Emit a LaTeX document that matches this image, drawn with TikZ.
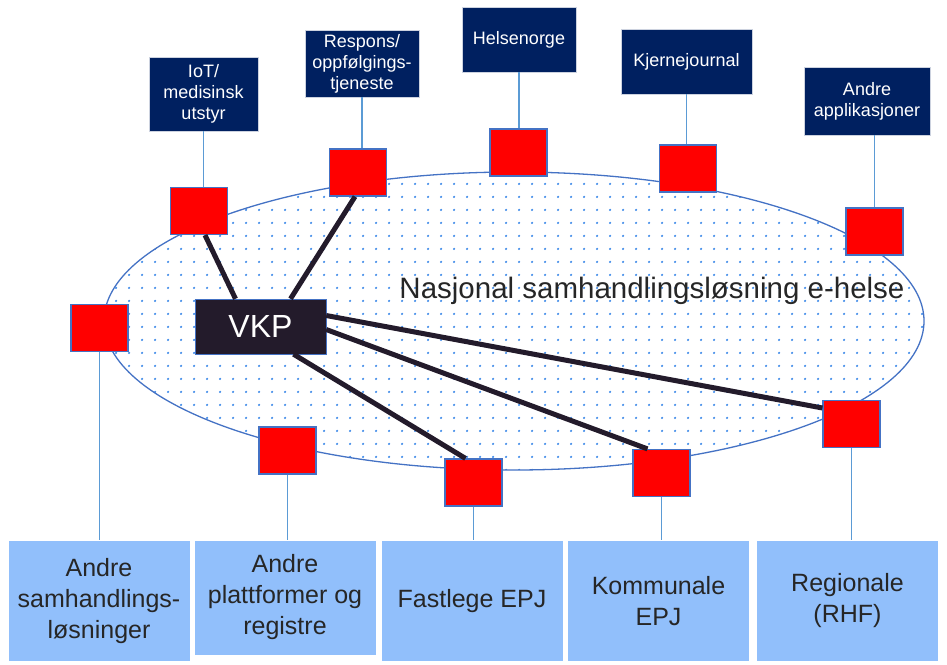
\documentclass[tikz,border=0pt]{standalone}
\usepackage{fontspec}
\setmainfont{Liberation Sans}
\usetikzlibrary{shapes.geometric, patterns.meta, positioning}
\definecolor{navy}{HTML}{002060}
\definecolor{portblue}{HTML}{4472C4}
\definecolor{linkblue}{HTML}{5B9BD5}
\definecolor{dotblue}{HTML}{3A88E8}
\definecolor{lightbox}{HTML}{91BFFB}
\definecolor{vkpdark}{HTML}{231B2B}
\definecolor{textdark}{HTML}{262626}
\tikzset{
   appbox/.style={
      fill=navy, draw=white!80!navy, text=white, align=center, inner sep=0pt,
      font=\fontsize{18}{21}\selectfont
   },
   port/.style={
      fill=red, draw=portblue, line width=1.2pt, inner sep=0pt,
      minimum width=57pt, minimum height=47pt
   },
   epjbox/.style={
      fill=lightbox, draw=white, text=textdark, align=center, inner sep=0pt,
      minimum width=182pt, minimum height=121pt,
      font=\fontsize{25}{31}\selectfont
   },
   thinline/.style={linkblue, line width=1.3pt},
   boldline/.style={vkpdark, line width=5pt}
}
\begin{document}
\begin{tikzpicture}[x=1pt, y=-1pt]
   \useasboundingbox (0,0) rectangle (947,664);

   \node[ellipse, draw=portblue, line width=1.3pt, fill=white,
         pattern={Dots[distance=13pt, radius=1.3pt]}, pattern color=dotblue,
         minimum width=820pt, minimum height=298pt, inner sep=0pt] (nasjonal) at (514,321) {};
   \node[font=\fontsize{29.5}{32}\selectfont, text=textdark] (nasjonaltekst) at (652,291) {Nasjonal samhandlingsløsning e-helse};

   \node[fill=vkpdark, draw=portblue, text=white, inner sep=0pt,
         minimum width=131pt, minimum height=55pt,
         font=\fontsize{32}{34}\selectfont] (vkp) at (260.5,326.5) {VKP};

   \node[appbox, minimum width=109pt, minimum height=74pt] (iot) at (203.5,94) {IoT/\\medisinsk\\utstyr};
   \node[appbox, minimum width=114pt, minimum height=67pt] (respons) at (362,63.5) {Respons/\\oppfølgings-\\tjeneste};
   \node[appbox, minimum width=114pt, minimum height=65pt] (helsenorge) at (519,39.5) {Helsenorge};
   \node[appbox, minimum width=131pt, minimum height=65pt] (kjerne) at (686.5,61.5) {Kjernejournal};
   \node[appbox, minimum width=126pt, minimum height=68pt] (andreapp) at (867,101) {Andre\\applikasjoner};

   \node[port] (p-iot) at (199,211) {};
   \node[port] (p-respons) at (358,172.5) {};
   \node[port] (p-helsenorge) at (518.5,152.5) {};
   \node[port] (p-kjerne) at (688,168.5) {};
   \node[port] (p-andreapp) at (874.5,231.5) {};
   \node[port] (p-andresam) at (99.5,328) {};
   \node[port] (p-plattform) at (287.5,450.5) {};
   \node[port] (p-fastlege) at (473.5,482.5) {};
   \node[port] (p-kommunal) at (661.5,473) {};
   \node[port] (p-regional) at (851.5,424) {};

   \node[epjbox] (andresam) at (99,601) {Andre\\samhandlings-\\løsninger};
   \node[epjbox, minimum height=115pt] (plattform) at (285,597.5) {Andre\\plattformer og\\registre};
   \node[epjbox] (fastlege) at (472,601) {Fastlege EPJ};
   \node[epjbox] (kommunal) at (658.5,601) {Kommunale\\EPJ};
   \node[epjbox] (regional) at (847.5,601) {Regionale\\(RHF)};

   \draw[thinline] (iot.south) -- (iot.south |- p-iot.north);
   \draw[thinline] (respons.south) -- (respons.south |- p-respons.north);
   \draw[thinline] (helsenorge.south) -- (helsenorge.south |- p-helsenorge.north);
   \draw[thinline] (kjerne.south) -- (kjerne.south |- p-kjerne.north);
   \draw[thinline] (p-andreapp.north) -- (p-andreapp.north |- andreapp.south);
   \draw[thinline] (p-andresam.south) -- (p-andresam.south |- andresam.north);
   \draw[thinline] (p-plattform.south) -- (p-plattform.south |- plattform.north);
   \draw[thinline] (p-fastlege.south) -- (p-fastlege.south |- fastlege.north);
   \draw[thinline] (p-kommunal.south) -- (p-kommunal.south |- kommunal.north);
   \draw[thinline] (p-regional.south) -- (p-regional.south |- regional.north);

   \draw[boldline] ([xshift=6pt]p-iot.south) -- ([xshift=-25pt]vkp.north);
   \draw[boldline] ([xshift=-3pt]p-respons.south) -- ([xshift=30pt]vkp.north);
   \draw[boldline] ([yshift=11pt]vkp.east) -- ([yshift=16pt]p-regional.west);
   \draw[boldline] ([yshift=-3pt]vkp.east) -- ([xshift=-14pt]p-kommunal.north);
   \draw[boldline] ([xshift=33pt]vkp.south) -- ([xshift=-8pt]p-fastlege.north);
\end{tikzpicture}
\end{document}
